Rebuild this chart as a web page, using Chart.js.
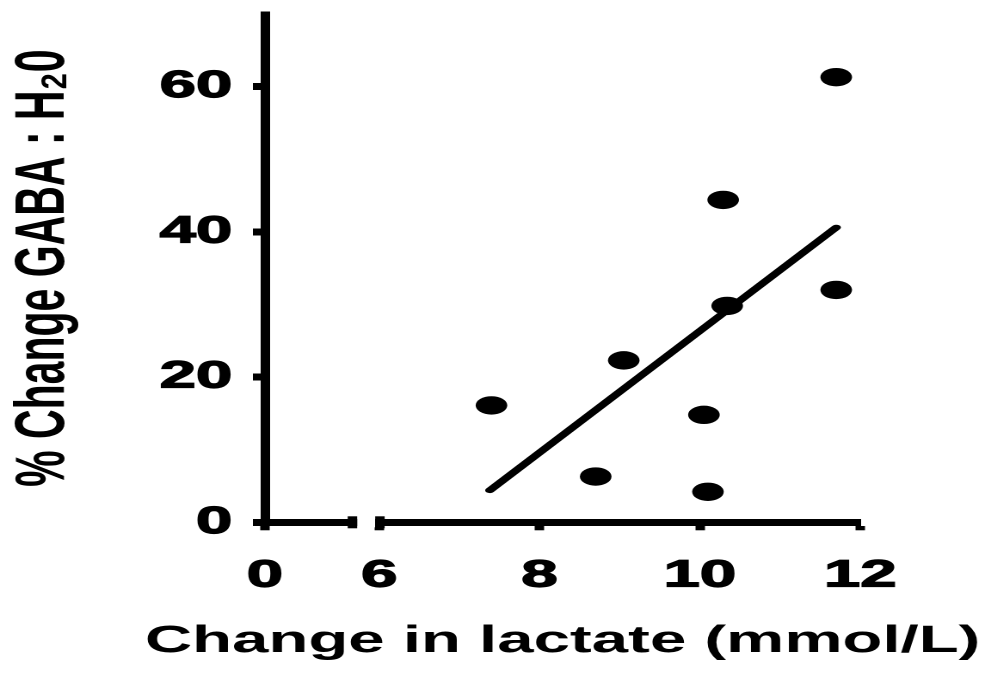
<!DOCTYPE html>
<html lang="en">
<head>
  <meta charset="UTF-8" />
  <title>GABA vs lactate</title>
  <style>
    html, body { margin: 0; padding: 0; background: #fff; overflow: hidden; }
    #wrap { width: 991px; height: 673px; overflow: hidden; }
    /* the figure is drawn narrow and stretched sideways, like the original */
    #chart { transform-origin: 0 0; transform: scaleX(1.7205); }
  </style>
</head>
<body>
  <div id="wrap"><canvas id="chart" width="576" height="673"></canvas></div>

  <script src="https://cdn.jsdelivr.net/npm/chart.js"></script>
  <script>
    // one entry per subject
    const lactate = [7.40, 8.70, 9.05, 10.05, 10.10, 10.29, 10.34, 11.70, 11.70];
    const gabaChange = [16.1, 6.3, 22.3, 14.8, 4.2, 44.4, 29.8, 61.3, 32.0];

    // regression line end points
    const fitX = [7.38, 11.70];
    const fitY = [4.4, 40.6];

    const xTicks = [0, 6, 8, 10, 12];
    const yTicks = [0, 20, 40, 60];

    // broken x axis: "0" is drawn at zeroAt, axis gap between breakFrom and breakTo
    const zeroAt = 4.575;
    const breakFrom = 5.725;
    const breakTo = 5.95;

    const bold = (size, family) => ({ family: family || '"Liberation Sans", Arial, sans-serif', size: size, weight: 'bold', lineHeight: 1.2 });

    const axisBreak = {
      id: 'axisBreak',
      afterDraw(chart) {
        const ctx = chart.ctx;
        const s = chart.scales.x;
        const a = s.getPixelForValue(breakFrom);
        const b = s.getPixelForValue(breakTo);
        const y = chart.chartArea.bottom;
        ctx.save();
        ctx.fillStyle = '#fff';
        ctx.fillRect(a, y - 5, b - a, 10);
        ctx.fillStyle = '#000';
        ctx.fillRect(a - 5.5, y - 6, 5.5, 12);
        ctx.fillRect(b, y - 6, 5.5, 12);
        ctx.restore();
      }
    };

    new Chart(document.getElementById('chart'), {
      data: {
        datasets: [
          {
            type: 'scatter',
            data: lactate.map((x, i) => ({ x: x, y: gabaChange[i] })),
            backgroundColor: '#000',
            borderWidth: 0,
            pointRadius: 9.2,
            pointHoverRadius: 9.2
          },
          {
            type: 'line',
            data: fitX.map((x, i) => ({ x: x, y: fitY[i] })),
            borderColor: '#000',
            borderWidth: 5.5,
            borderCapStyle: 'round',
            pointRadius: 0,
            fill: false
          }
        ]
      },
      options: {
        responsive: false,
        devicePixelRatio: 2,
        animation: false,
        // left padding + x scale right padding keep the bottom title centred under the plot
        layout: { padding: { top: 14, right: 0, left: 78, bottom: 0 } },
        plugins: {
          legend: { display: false },
          tooltip: { enabled: false },
          title: {
            display: true,
            position: 'bottom',
            text: 'Change in lactate (mmol/L)',
            color: '#000',
            font: bold(38),
            padding: { top: 0, bottom: 8.8 }
          }
        },
        scales: {
          x: {
            type: 'linear',
            min: zeroAt,
            max: 12,
            afterBuildTicks: s => { s.ticks = xTicks.map(t => ({ value: t === 0 ? zeroAt : t })); },
            afterFit: s => { s.height = 96.3; s.paddingLeft = 0; s.paddingRight = 76; },
            border: { display: true, color: '#000', width: 7 },
            grid: { drawOnChartArea: false, tickLength: 8, tickWidth: 5.5, tickColor: '#000' },
            ticks: {
              color: '#000',
              font: bold(38),
              textStrokeColor: '#000',
              textStrokeWidth: 1.2,
              padding: 23,
              maxRotation: 0,
              autoSkip: false,
              callback: v => (v === zeroAt ? '0' : String(v))
            }
          },
          y: {
            min: 0,
            max: 70,
            afterBuildTicks: s => { s.ticks = yTicks.map(t => ({ value: t })); },
            afterFit: s => { s.width = 76; s.paddingTop = 0; s.paddingBottom = 0; },
            border: { display: true, color: '#000', width: 5.5 },
            grid: { drawOnChartArea: false, tickLength: 7, tickWidth: 7, tickColor: '#000' },
            ticks: {
              color: '#000',
              font: bold(38),
              textStrokeColor: '#000',
              textStrokeWidth: 1.2,
              padding: 12
            },
            title: {
              display: true,
              text: '% Change GABA : H\u20820',
              color: '#000',
              font: bold(41),
              padding: { top: -77, bottom: 0 }
            }
          }
        }
      },
      plugins: [axisBreak]
    });
  </script>
</body>
</html>
